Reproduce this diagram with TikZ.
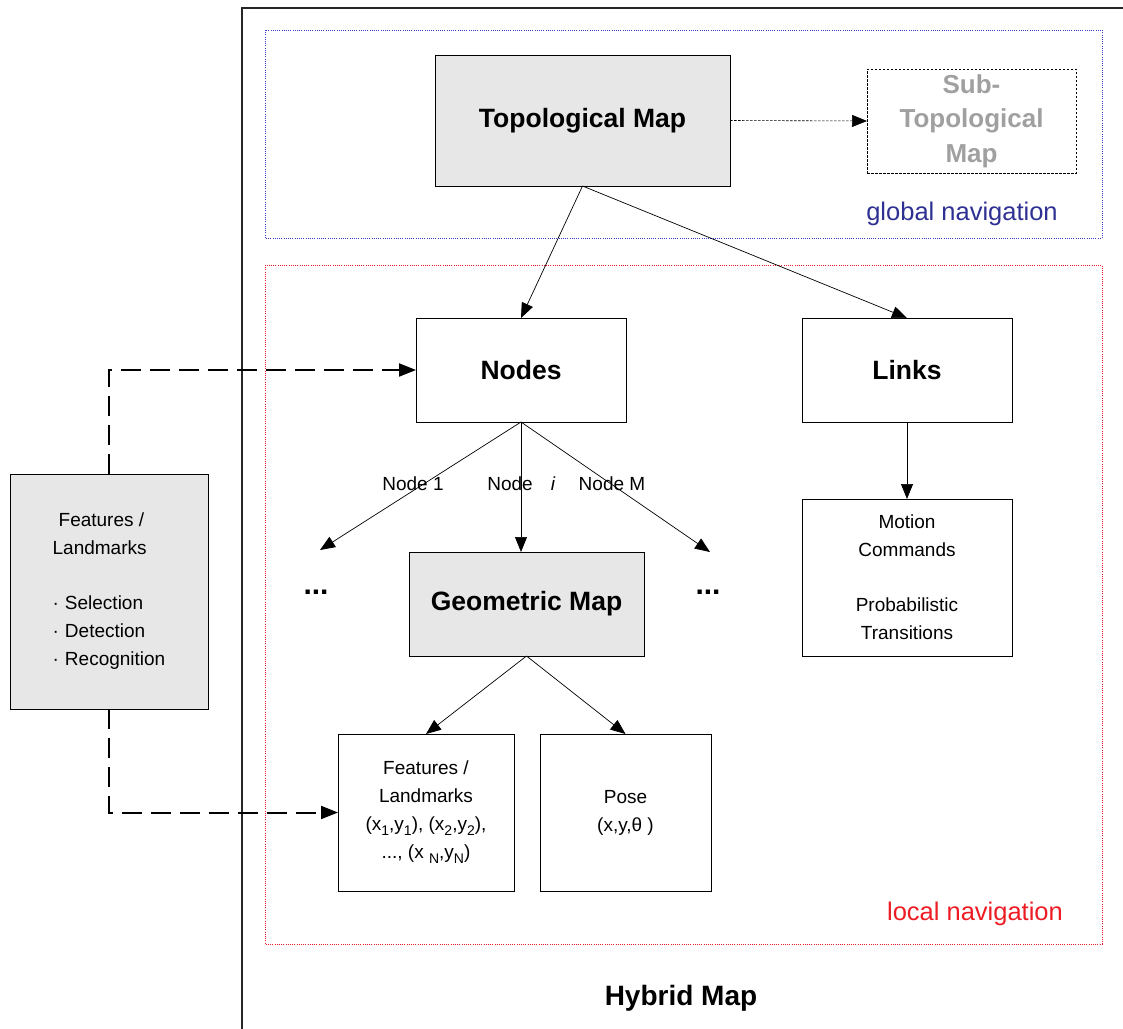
\documentclass[tikz,border=0pt]{standalone}
\usepackage{fontspec}
\setmainfont{Liberation Sans}
\usetikzlibrary{arrows.meta,shadows}

\definecolor{boxgray}{RGB}{230,231,230}
\definecolor{navblue}{RGB}{46,49,146}
\definecolor{dotblue}{RGB}{60,60,190}
\definecolor{navred}{RGB}{237,28,36}
\definecolor{subgray}{RGB}{160,160,160}

% lowered index for coordinate pairs
\newcommand\lowidx[1]{\raisebox{-5pt}{\fontsize{14}{14}\selectfont #1}}

\begin{document}
\begin{tikzpicture}[x=1pt,y=-1pt,
  every node/.style={inner sep=0pt,outer sep=0pt},
  mapbox/.style={draw=black,line width=0.8pt,fill=white,
    drop shadow={shadow xshift=1.2pt,shadow yshift=-1.3pt,fill=black!55,opacity=1}},
  graybox/.style={mapbox,fill=boxgray},
  bigtxt/.style={font=\fontsize{26.5}{33}\selectfont\bfseries},
  smalltxt/.style={font=\fontsize{19}{28}\selectfont},
  link/.style={line width=0.7pt,-{Triangle[length=15pt,width=12pt]}},
  feed/.style={line width=2pt,dash pattern=on 20pt off 9pt,-{Triangle[length=17pt,width=13pt]}},
  zone/.style={line width=0.8pt,dash pattern=on 1pt off 1.2pt},
]
\useasboundingbox (0,0) rectangle (1123,1028);

% outer frame of the hybrid map
\draw[line width=2.4pt,black!85] (242,1030) -- (242,8) -- (1125,8);
\node[font=\fontsize{28}{32}\selectfont\bfseries] (hybrid) at (681,998) {Hybrid Map};

% navigation zones
\draw[zone,dotblue] (265,30) rectangle (1102,238);
\node[font=\fontsize{25.5}{30}\selectfont,text=navblue] (global) at (962,214) {global navigation};
\draw[zone,navred] (265,265) rectangle (1102,944);
\node[font=\fontsize{25.5}{30}\selectfont,text=navred] (local) at (975,914) {local navigation};

% global level
\node[graybox,minimum width=295pt,minimum height=131pt,bigtxt] (topo) at (582.5,120.5) {\raisebox{-3pt}{Topological Map}};
\node[draw=black,line width=0.6pt,dash pattern=on 2.5pt off 1.5pt,minimum width=209pt,minimum height=104pt,
      text=subgray,align=center,font=\fontsize{26}{34.5}\selectfont\bfseries] (sub) at (971.5,121) {Sub-\\Topological\\Map};

% local level
\node[mapbox,minimum width=210pt,minimum height=104pt,bigtxt] (nodes) at (521,370) {\raisebox{-3pt}{Nodes}};
\node[mapbox,minimum width=210pt,minimum height=104pt,bigtxt] (links) at (907,370) {\raisebox{-3pt}{Links}};
\node[graybox,minimum width=235pt,minimum height=104pt,bigtxt] (geo) at (526.5,604) {\raisebox{-3pt}{Geometric Map}};
\node[mapbox,minimum width=176pt,minimum height=157pt,smalltxt,align=center] (feat) at (426,812.5)
  {Features /\\Landmarks\\(x\lowidx{1},y\lowidx{1}), (x\lowidx{2},y\lowidx{2}),\\..., (x \lowidx{N},y\lowidx{N})};
\node[mapbox,minimum width=171pt,minimum height=157pt,smalltxt,align=center] (pose) at (625.5,812.5)
  {Pose\\(x,y,θ )};
\node[mapbox,minimum width=210pt,minimum height=157pt,smalltxt,align=center] (motion) at (907,577.5)
  {Motion\\Commands\\[27pt]Probabilistic\\Transitions};

% feature extraction outside the map
\node[graybox,minimum width=198pt,minimum height=235pt,smalltxt,align=left] (lfeat) at (109,591.5)
  {\hspace*{6pt}Features /\\Landmarks\\[27pt]·\hspace{6pt}Selection\\·\hspace{6pt}Detection\\·\hspace{6pt}Recognition};

% other nodes of the topological map
\node[font=\fontsize{30}{30}\selectfont\bfseries] (dotsl) at (316,592) {...};
\node[font=\fontsize{30}{30}\selectfont\bfseries] (dotsr) at (708,592) {...};
\coordinate (endl) at (320,550);
\coordinate (endr) at (710,552);

% node labels
\node[smalltxt] (lab1) at (413,484) {Node 1};
\node[smalltxt] (labi) at (510,484) {Node};
\node[font=\fontsize{19}{28}\selectfont\itshape] (labii) at (553,484) {i};
\node[smalltxt] (labm) at (612,484) {Node M};

% connectors
\draw[line width=0.6pt,dash pattern=on 2.5pt off 1.5pt,-{Triangle[length=15pt,width=12pt]}] (topo.east) -- (sub.west);
\draw[link] (topo.south) -- (nodes.north);
\draw[link] (topo.south) -- (links.north);
\draw[link] (nodes.south) -- (endl);
\draw[link] (nodes.south) -- (nodes.south |- geo.north);
\draw[link] (nodes.south) -- (endr);
\draw[link] (geo.south) -- (feat.north);
\draw[link] (geo.south) -- (pose.north);
\draw[link] (links.south) -- (motion.north);

% feature data feeding the map
\draw[feed] (lfeat.north) |- (nodes.west);
\draw[feed] (lfeat.south) |- (feat.west);
\end{tikzpicture}
\end{document}
